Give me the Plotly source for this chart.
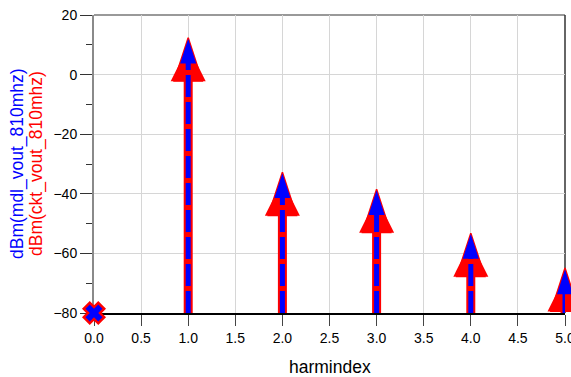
import plotly.graph_objects as go

# ---- data ----
harm = [0, 1, 2, 3, 4, 5]
ckt_dbm = [-80, 12.4, -32.8, -38.5, -53.2, -64.9]
mdl_dbm = [-80, 12.0, -33.1, -38.8, -53.5, -65.4]
floor_dbm = -80
x_ticks = [0, 0.5, 1, 1.5, 2, 2.5, 3, 3.5, 4, 4.5, 5]
x_ticklabels = ["0.0", "0.5", "1.0", "1.5", "2.0", "2.5", "3.0", "3.5", "4.0", "4.5", "5.0"]
y_ticks = [20, 0, -20, -40, -60, -80]
y_minor = [10, -10, -30, -50, -70]
x_title = "harmindex"
y_title_mdl = "dBm(mdl_vout_810mhz)"
y_title_ckt = "dBm(ckt_vout_810mhz)"

FONT = "Liberation Sans, Arial, sans-serif"

fig = go.Figure()


def add_stems(xs, ys, color, width, dash, back):
    for x, y in zip(xs, ys):
        if y <= floor_dbm:
            continue
        fig.add_trace(go.Scatter(x=[x, x], y=[floor_dbm, y], mode="lines+markers",
                                 line=dict(color=color, width=width, dash=dash, backoff=back),
                                 marker=dict(size=1, opacity=0, angle=0),
                                 hoverinfo="skip", showlegend=False))


# red (ckt) stems and markers
add_stems(harm, ckt_dbm, "red", 9, "solid", 20)
sym_r = ["x" if v <= floor_dbm else "arrow" for v in ckt_dbm]
size_r = [15 if v <= floor_dbm else 45.5 for v in ckt_dbm]
lw_r = [5 if v <= floor_dbm else 1.5 for v in ckt_dbm]
fig.add_trace(go.Scatter(x=harm, y=ckt_dbm, mode="markers",
                         marker=dict(symbol=sym_r, size=size_r, color="red", angle=0,
                                     opacity=1, line=dict(color="red", width=lw_r)),
                         cliponaxis=False, showlegend=False))
hx = [h for h, v in zip(harm, ckt_dbm) if v > floor_dbm]
hy = [v for v in ckt_dbm if v > floor_dbm]
fig.add_trace(go.Scatter(x=hx, y=hy, mode="markers",
                         marker=dict(symbol="arrow-up", size=35, color="red", angle=0,
                                     opacity=1, standoff=8.5, line=dict(width=0)),
                         cliponaxis=False, showlegend=False))

# blue (mdl) stems and markers
add_stems(harm, mdl_dbm, "blue", 5, "22px,5px", 10)
sym_b = ["x" if v <= floor_dbm else "arrow" for v in mdl_dbm]
size_b = [15 if v <= floor_dbm else 26 for v in mdl_dbm]
fig.add_trace(go.Scatter(x=harm, y=mdl_dbm, mode="markers",
                         marker=dict(symbol=sym_b, size=size_b, color="blue", angle=0,
                                     opacity=1, line=dict(width=0)),
                         cliponaxis=False, showlegend=False))

fig.update_layout(
    width=571, height=377,
    margin=dict(l=94, r=6, t=15, b=64),
    paper_bgcolor="white", plot_bgcolor="white",
    font=dict(family=FONT, size=14, color="black"),
    showlegend=False,
    xaxis=dict(range=[0, 5], tickvals=x_ticks, ticktext=x_ticklabels,
               ticks="outside", ticklen=11, tickcolor="#444", tickwidth=1,
               showgrid=True, gridcolor="#d6d6d6", gridwidth=1,
               showline=True, linecolor="black", linewidth=1.5,
               zeroline=False, ticklabeloverflow="allow", automargin=False,
               layer="below traces",
               tickfont=dict(family=FONT, size=14, color="black")),
    yaxis=dict(range=[-80, 20], tickvals=y_ticks,
               ticks="outside", ticklen=12, tickcolor="#333", tickwidth=1,
               showgrid=True, gridcolor="#d6d6d6", gridwidth=1,
               showline=True, linecolor="#8a8a8a", linewidth=2,
               zeroline=False, automargin=False, layer="below traces",
               tickfont=dict(family=FONT, size=14, color="black"),
               minor=dict(tickvals=y_minor, ticks="outside", ticklen=6,
                          tickcolor="#333", showgrid=False)),
    shapes=[
        dict(type="line", xref="paper", yref="paper", x0=0, x1=1, y0=1, y1=1,
             line=dict(color="#999999", width=2), layer="below"),
        dict(type="line", xref="paper", yref="paper", x0=1, x1=1, y0=0, y1=1,
             line=dict(color="#333333", width=1.5), layer="below"),
    ],
    annotations=[
        dict(text=y_title_mdl, xref="paper", yref="paper", x=0, y=0.5,
             xshift=-77, textangle=-90, showarrow=False, xanchor="center", yanchor="middle",
             font=dict(family=FONT, size=17.5, color="blue")),
        dict(text=y_title_ckt, xref="paper", yref="paper", x=0, y=0.5,
             xshift=-58, textangle=-90, showarrow=False, xanchor="center", yanchor="middle",
             font=dict(family=FONT, size=17.5, color="red")),
        dict(text=x_title, xref="paper", yref="paper", x=0.5, y=0,
             yshift=-54, showarrow=False, xanchor="center", yanchor="middle",
             font=dict(family=FONT, size=17.5, color="black")),
    ],
)

fig.write_html("out.html")
